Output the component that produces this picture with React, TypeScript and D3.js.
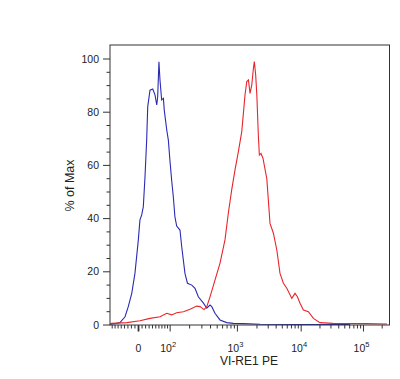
import React from "react";
import * as d3 from "d3";

// Blue histogram (control): [fluorescence value, % of max]
const blueX = [-88, -70, -54, -38.5, -29, -19, -10, -0.5, 4, 9, 13.5, 18.3, 23, 26, 32.6, 40.7, 47.6, 53, 56, 60, 63.5, 69, 75, 78, 87, 93, 99, 106, 113, 120, 128, 144, 153, 171, 186, 215, 239, 267, 316, 353, 393, 417, 464, 549, 690, 870, 1230, 2230, 9580, 60800];
const blueY = [0.3, 0.5, 0.9, 3.1, 6.9, 11.9, 19.4, 32, 39.5, 41.4, 44.5, 55.8, 69.5, 82, 88.3, 88.7, 86.5, 82.7, 85.8, 99, 92, 84.6, 85.2, 80.8, 73.3, 69.5, 62, 54.5, 48.2, 40.7, 37.2, 35.7, 29.4, 19.4, 15.7, 15, 13.8, 10.6, 8.2, 6.3, 7.5, 6.9, 4.4, 1.9, 0.9, 0.6, 0.5, 0.3, 0.2, 0.2];

// Red histogram (stained)
const redX = [-88, -82, -33, 4, 32.6, 63.5, 87, 106, 128, 162, 203, 253, 282, 322, 353, 393, 464, 549, 651, 730, 820, 920, 1035, 1165, 1307, 1390, 1475, 1561, 1660, 1760, 1820, 1910, 1990, 2100, 2180, 2310, 2480, 2850, 3200, 3620, 4098, 4604, 5213, 5904, 7091, 7971, 8711, 9580, 10857, 13053, 15700, 20000, 32000, 110000, 240000];
const redY = [0.3, 0.6, 0.9, 1.6, 2.5, 3.1, 4.4, 3.8, 4.6, 5, 5.9, 7.1, 6.9, 5.8, 6.9, 10.6, 16.9, 23.2, 32, 42, 50.8, 58.3, 65.2, 72.7, 86.5, 91.5, 92.1, 87.1, 90.2, 96.5, 99, 94, 86.5, 71.4, 63.9, 64.5, 62.7, 55, 38.2, 34.5, 28.2, 19.4, 15.7, 13.8, 10, 11.9, 10.6, 8.2, 5.6, 5, 2.5, 0.9, 0.6, 0.5, 0.4];

const yTicks = [0, 20, 40, 60, 80, 100];
const xMajor = [0, 100, 1000, 10000, 100000];
const xLabels = [
  { v: 0, base: "0", sup: "" },
  { v: 100, base: "10", sup: "2" },
  { v: 1000, base: "10", sup: "3" },
  { v: 10000, base: "10", sup: "4" },
  { v: 100000, base: "10", sup: "5" },
];

// Logicle transform parameters
const T = 262144;
const M = 4.5;
const W = 0.459;

const LN10 = Math.LN10;
const wN = W * LN10;
const mN = M * LN10;
const pParam = (() => {
  let lo = 1.000001, hi = 100;
  for (let i = 0; i < 100; i++) {
    const mid = (lo + hi) / 2;
    const f = (2 * mid * Math.log(mid)) / (mid + 1);
    if (f > wN) hi = mid; else lo = mid;
  }
  return (lo + hi) / 2;
})();
const K = T * Math.exp(-(mN - wN));
function logicleInverse(yDec: number): number {
  const u = yDec * LN10 - wN;
  const f = (uu: number) =>
    K * (Math.exp(uu) - pParam * pParam * Math.exp(-uu / pParam) + pParam * pParam - 1);
  return u >= 0 ? f(u) : -f(-u);
}
function logicle(v: number): number {
  let lo = -2, hi = M + 1;
  for (let i = 0; i < 80; i++) {
    const mid = (lo + hi) / 2;
    if (logicleInverse(mid) > v) hi = mid; else lo = mid;
  }
  return (lo + hi) / 2;
}

function minorTicks(): number[] {
  const t: number[] = [];
  for (let k = 1; k <= 9; k++) t.push(-10 * k, 10 * k);
  for (let e = 2; e <= 5; e++) {
    for (let k = 2; k <= 9; k++) t.push(k * Math.pow(10, e));
  }
  return t;
}

export default function App() {
  const width = 400;
  const height = 379;
  const left = 110, right = 389.5, top = 45, bottom = 325;

  const xs = d3.scaleLinear().domain([0, M]).range([left, right]);
  const x = (v: number) => xs(logicle(v));
  const y = d3.scaleLinear().domain([0, 100]).range([bottom, 59]);

  const line = d3
    .line<[number, number]>()
    .x((d) => x(d[0]))
    .y((d) => y(d[1]));

  const blue = blueX.map((v, i) => [v, blueY[i]] as [number, number]);
  const red = redX.map((v, i) => [v, redY[i]] as [number, number]);

  const yMinor = d3.range(0, 105, 5).filter((v) => v % 20 !== 0);
  const xMinor = minorTicks().filter((v) => {
    const p = x(v);
    return p >= left && p <= right;
  });

  const font = "Liberation Sans, Arial, sans-serif";

  return (
    <svg width={width} height={height} style={{ display: "block", position: "absolute", left: 0, top: 0 }}>
      <rect x={0} y={0} width={width} height={height} fill="#fff" />
      <g clipPath="url(#clip)">
        <path d={line(blue) || ""} fill="none" stroke="#2a2ab4" strokeWidth={1.1} />
        <path d={line(red) || ""} fill="none" stroke="#e8252b" strokeWidth={1.1} />
      </g>
      <defs>
        <clipPath id="clip">
          <rect x={left} y={top} width={right - left} height={bottom - top + 1} />
        </clipPath>
      </defs>
      <rect x={left} y={top} width={right - left} height={bottom - top} fill="none" stroke="#333" strokeWidth={1} />
      {/* y ticks */}
      {yTicks.map((t) => (
        <g key={"y" + t}>
          <line x1={left - 7} x2={left} y1={y(t)} y2={y(t)} stroke="#333" />
          <text x={left - 11} y={y(t)} dy="0.35em" textAnchor="end" fontFamily={font} fontSize={10.5} fill="#222">
            {t}
          </text>
        </g>
      ))}
      {yMinor.map((t) => (
        <line key={"ym" + t} x1={left - 3.5} x2={left} y1={y(t)} y2={y(t)} stroke="#333" />
      ))}
      {/* x ticks */}
      {xMinor.map((t) => (
        <line key={"xm" + t} x1={x(t)} x2={x(t)} y1={bottom} y2={bottom + 3.5} stroke="#333" />
      ))}
      {xMajor.map((t) => (
        <line key={"xM" + t} x1={x(t)} x2={x(t)} y1={bottom} y2={bottom + 6.5} stroke="#333" strokeWidth={t === 0 ? 1.8 : 1} />
      ))}
      {xLabels.map((l) => (
        <text key={"xl" + l.v} x={x(l.v) - (l.sup ? 2 : 0)} y={352} textAnchor="middle" fontFamily={font} fontSize={10.5} fill="#222">
          {l.base}
          {l.sup ? (
            <tspan dy={-5} fontSize={7.5}>
              {l.sup}
            </tspan>
          ) : null}
        </text>
      ))}
      <text x={249} y={365} textAnchor="middle" fontFamily={font} fontSize={12} fill="#222">
        VI-RE1 PE
      </text>
      <text transform="translate(74,185.5) rotate(-90)" textAnchor="middle" fontFamily={font} fontSize={12.5} fill="#222">
        % of Max
      </text>
    </svg>
  );
}
